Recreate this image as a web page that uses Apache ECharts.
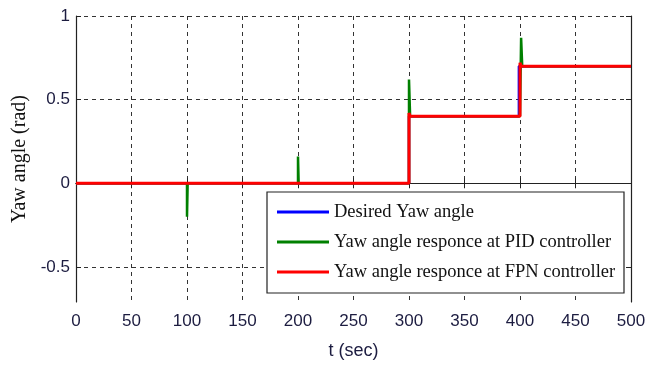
<!doctype html>
<html>
  <head>
    <meta charset="utf-8">
    <title>Yaw angle</title>
    <script src="https://cdn.jsdelivr.net/npm/echarts@6/dist/echarts.min.js"></script>
    <style>
      html, body { margin: 0; padding: 0; background: #fff; }
      #main { width: 657px; height: 365px; }
    </style>
  </head>
  <body>
    <div id="main"></div>
    <script type="text/javascript">
      // t (sec) / angle (rad) breakpoints
      var desiredT   = [0, 300, 300, 399, 399, 500];
      var desiredY   = [0, 0, 0.4, 0.4, 0.7, 0.7];

      var pidT = [0, 100, 100, 100.6, 200, 200, 200.6, 300, 300, 301, 400, 401, 401, 402, 500];
      var pidY = [0, 0, -0.2, 0, 0, 0.16, 0, 0, 0.62, 0.4, 0.4, 0.4, 0.87, 0.7, 0.7];

      var fpnT = [0, 300, 300, 301, 400, 400, 401, 500];
      var fpnY = [0, 0, 0.42, 0.4, 0.4, 0.72, 0.7, 0.7];

      var yTicks = [-0.5, 0, 0.5, 1];
      var seriesNames = ['Desired Yaw angle', 'Yaw angle responce at PID controller', 'Yaw angle responce at FPN controller'];
      var seriesColors = ['#0000ff', '#008000', '#ff0000'];

      function pairs(t, y) {
        var out = [];
        for (var i = 0; i < t.length; i++) out.push([t[i], y[i]]);
        return out;
      }

      var labelFont = { fontFamily: "'Liberation Sans Narrow', 'Liberation Sans', Arial, sans-serif", fontSize: 17, color: '#1c1c40' };
      var serif = "'Liberation Serif', 'Times New Roman', serif";

      var chart = echarts.init(document.getElementById('main'));
      var option = {
        animation: false,
        backgroundColor: '#fff',
        grid: { left: 76, right: 26, top: 16, bottom: 63 },
        xAxis: [
          {
            type: 'value', min: 0, max: 500, interval: 50,
            name: 't (sec)', nameLocation: 'middle', nameGap: 40,
            nameTextStyle: { fontFamily: labelFont.fontFamily, fontSize: 18, color: '#1c1c40' },
            axisLine: { show: true, lineStyle: { color: '#222', width: 1.2 } },
            axisTick: { show: true, inside: true, length: 5, lineStyle: { color: '#222' } },
            axisLabel: Object.assign({ margin: 11 }, labelFont),
            splitLine: { show: true, lineStyle: { color: '#333', type: [4, 4], width: 1 } }
          },
          {
            type: 'value', min: 0, max: 500, interval: 50, position: 'top',
            axisLine: { show: true, lineStyle: { color: '#222', width: 1.2 } },
            axisTick: { show: true, inside: true, length: 5, lineStyle: { color: '#222' } },
            axisLabel: { show: false },
            splitLine: { show: false }
          }
        ],
        yAxis: [
          {
            type: 'value', min: -0.71, max: 1,
            name: 'Yaw angle (rad)', nameLocation: 'middle', nameGap: 40, nameRotate: 90,
            nameTextStyle: { fontFamily: serif, fontSize: 20, color: '#111' },
            axisLine: { show: true, onZero: false, lineStyle: { color: '#222', width: 1.2 } },
            axisTick: { show: true, inside: true, length: 5, customValues: yTicks, lineStyle: { color: '#222' } },
            axisLabel: Object.assign({ margin: 6, customValues: yTicks }, labelFont),
            splitLine: { show: true, lineStyle: { color: '#333', type: [4, 4], width: 1 } }
          },
          {
            type: 'value', min: -0.71, max: 1, position: 'right',
            axisLine: { show: true, onZero: false, lineStyle: { color: '#222', width: 1.2 } },
            axisTick: { show: true, inside: true, length: 5, customValues: yTicks, lineStyle: { color: '#222' } },
            axisLabel: { show: false },
            splitLine: { show: false }
          }
        ],
        legend: {
          orient: 'vertical', left: 277, top: 202, padding: 0, z: 10,
          icon: 'rect', itemWidth: 52, itemHeight: 3, itemGap: 10,
          textStyle: { fontFamily: serif, fontSize: 18.5, color: '#111', lineHeight: 20 },
          data: seriesNames
        },
        graphic: [
          {
            type: 'rect', z: 5,
            shape: { x: 267, y: 192, width: 357, height: 101 },
            style: { fill: '#fff', stroke: '#222', lineWidth: 1.2 }
          }
        ],
        series: [
          { name: seriesNames[0], type: 'line', data: pairs(desiredT, desiredY), showSymbol: false, color: seriesColors[0], lineStyle: { width: 2.5 }, z: 2 },
          { name: seriesNames[1], type: 'line', data: pairs(pidT, pidY), showSymbol: false, color: seriesColors[1], lineStyle: { width: 2.5 }, z: 3 },
          { name: seriesNames[2], type: 'line', data: pairs(fpnT, fpnY), showSymbol: false, color: seriesColors[2], lineStyle: { width: 3 }, z: 4 }
        ]
      };
      chart.setOption(option);
    </script>
  </body>
</html>
